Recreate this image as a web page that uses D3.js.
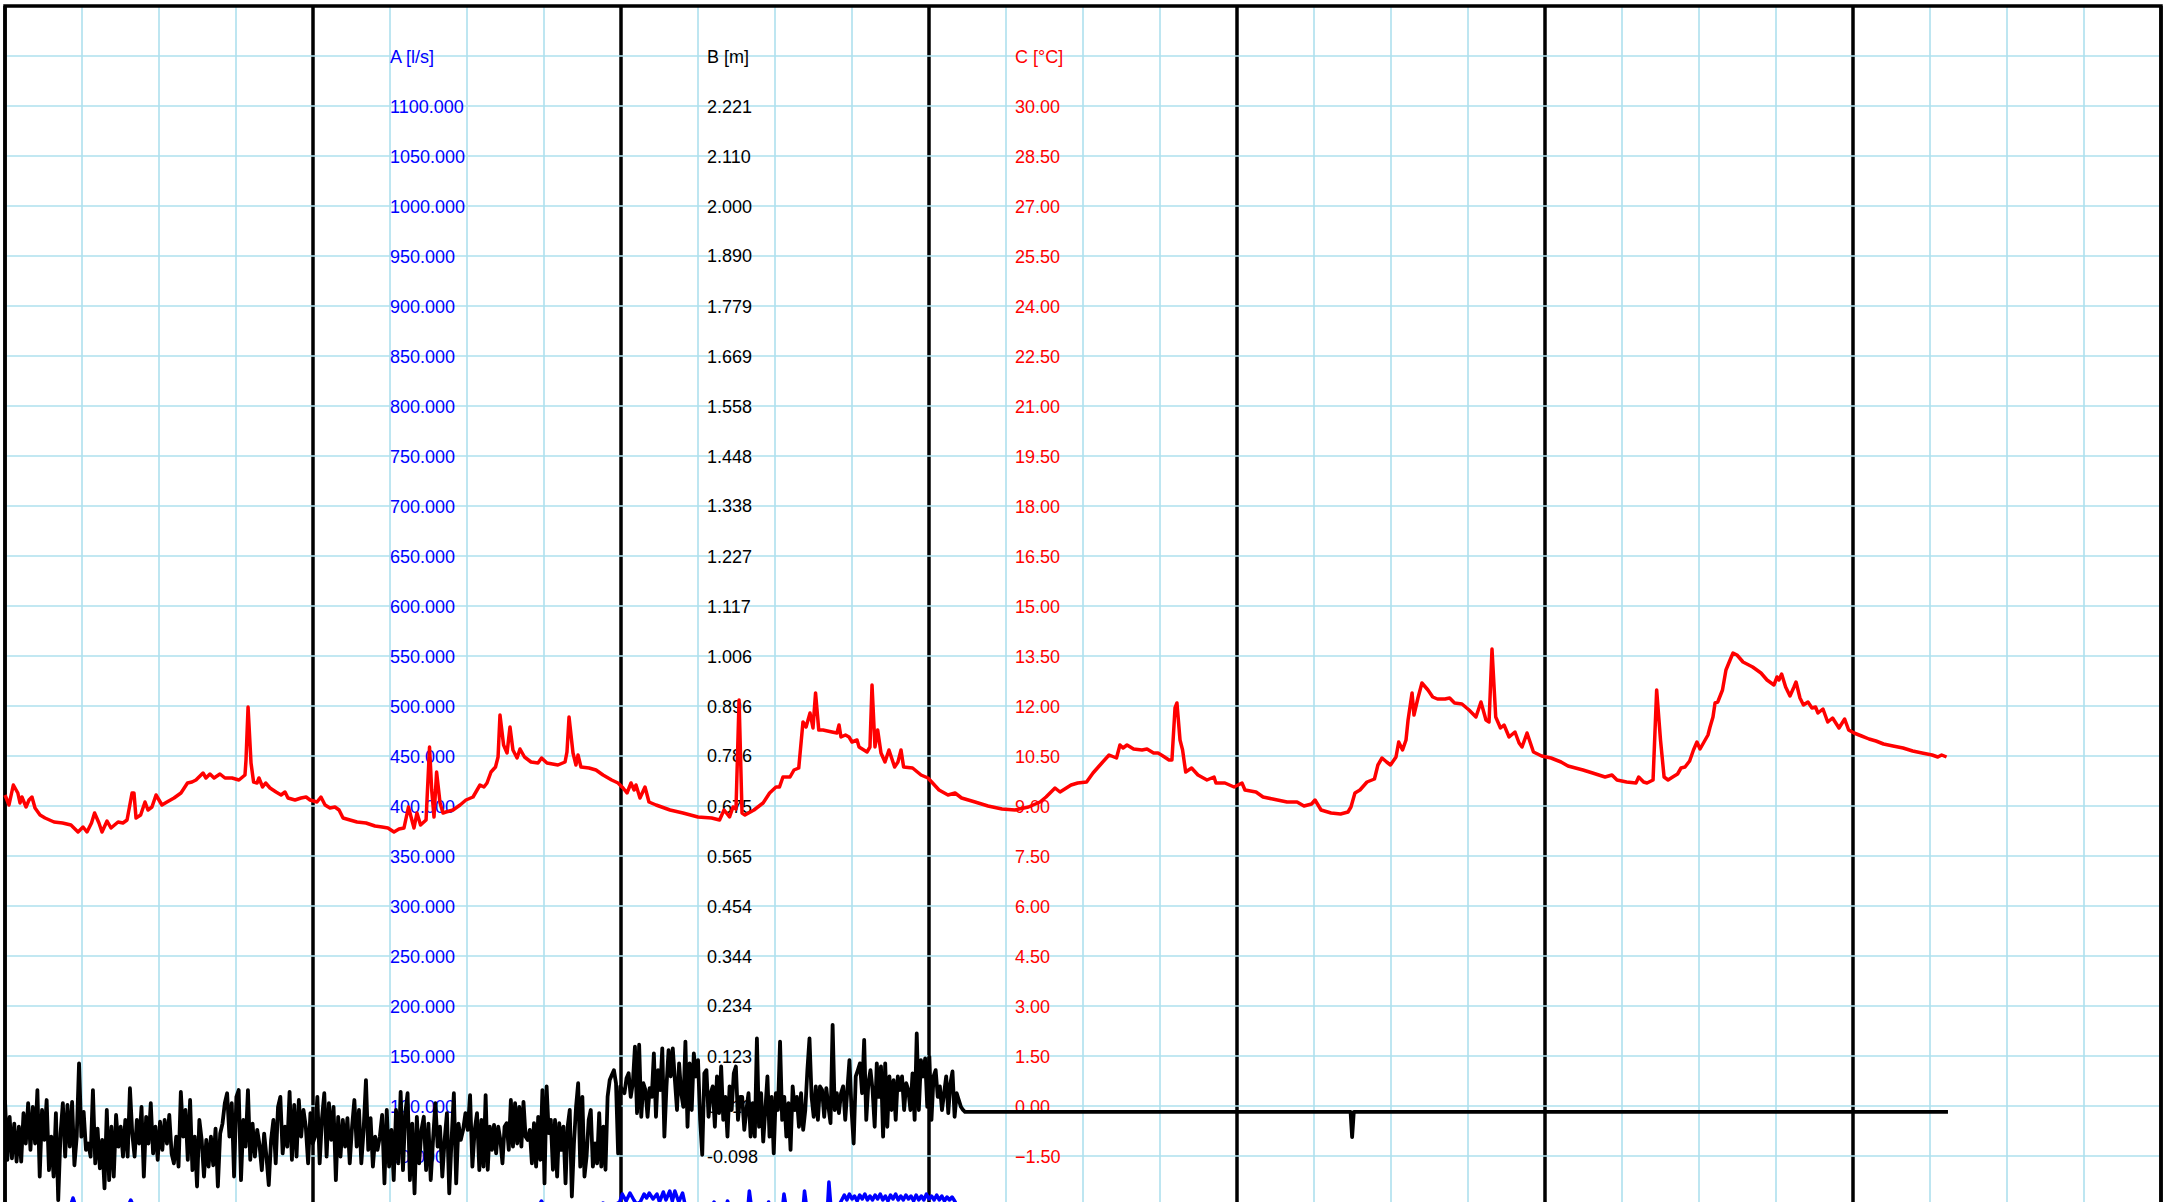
<!DOCTYPE html>
<html>
<head>
<meta charset="utf-8">
<script src="https://cdn.jsdelivr.net/npm/d3@7"></script>
<style>
  body { margin: 0; background: #fff; }
  svg { display: block; }
</style>
</head>
<body>
<div id="chart"></div>
<script>
// time axis is in hours, 7 days shown
var dayHours = 24;
var totalHours = 168;

// A [l/s] - flow, [hour, value]
var flowA = [[0,0],[5.1,0],[5.3,8],[5.5,0],[9.6,0],[9.8,6],[10.0,0],[41.6,0],[41.8,5],[42.0,0],[46.3,0],
  [46.6,3],[46.9,1],[47.2,2],[47.5,1],[47.9,4],[48.1,12],[48.4,5],[48.7,13],[49.0,6],[49.2,2],[49.5,4],
  [49.8,12],[50.0,8],[50.2,13],[50.5,7],[50.8,12],[51.0,4],[51.3,14],[51.5,6],[51.8,15],[52.0,5],[52.2,15],
  [52.5,4],[52.8,13],[53.0,1],[53.5,0],[55.1,0],[55.25,4],[55.4,0],[56.2,0],[56.3,5],[56.45,0],[57.9,0],
  [58.0,15],[58.15,0],[59.4,0],[59.5,4],[59.65,0],[60.6,0],[60.7,12],[60.85,0],[62.2,0],[62.3,15],[62.45,0],
  [64.1,0],[64.2,24],[64.35,0],[65.0,1],[65.2,6],[65.4,11],[65.6,6],[65.8,12],[66.0,7],[66.2,10],[66.4,5],
  [66.6,11],[66.8,7],[67.0,12],[67.2,6],[67.4,10],[67.6,6],[67.8,11],[68.0,7],[68.2,12],[68.4,6],[68.6,10],
  [68.8,5],[69.0,11],[69.2,7],[69.4,12],[69.6,6],[69.8,10],[70.0,6],[70.2,11],[70.4,7],[70.6,10],[70.8,5],
  [71.0,11],[71.2,6],[71.4,10],[71.6,6],[71.8,12],[72.0,7],[72.2,10],[72.4,6],[72.6,11],[72.8,6],[73.0,10],
  [73.2,5],[73.4,9],[73.6,6],[73.8,9],[74.0,5],[74.2,0],[151.3,0]];

// B [m] - level, logged samples; two logging blocks (sample index -> hour)
var levelBlockIdx = [0, 205, 435];
var levelBlockHours = [0, 36.96, 74.65];
var levelSamples = [
  0.026,-0.106,-0.011,-0.103,-0.026,-0.110,-0.033,-0.110,-0.003,-0.070,
  0.019,-0.084,0.011,-0.070,0.048,-0.143,0.004,-0.062,0.026,-0.129,
  -0.055,-0.143,-0.003,-0.195,-0.048,0.019,-0.099,0.015,-0.077,0.022,
  -0.118,-0.055,0.107,-0.055,0.000,-0.084,-0.070,-0.099,0.048,-0.114,
  -0.037,-0.125,-0.062,-0.169,0.004,-0.151,-0.033,-0.143,-0.007,-0.077,
  -0.033,-0.099,-0.018,-0.099,0.052,-0.048,-0.099,-0.018,-0.070,0.011,
  -0.143,-0.011,-0.070,0.019,-0.092,-0.033,-0.106,-0.022,-0.084,-0.018,
  -0.070,-0.007,-0.092,-0.114,-0.055,-0.121,0.044,-0.055,0.004,-0.106,
  0.026,-0.129,-0.055,-0.165,-0.018,-0.062,-0.143,-0.062,-0.121,-0.055,
  -0.118,-0.037,-0.165,-0.048,-0.026,0.019,0.041,-0.055,0.019,-0.143,
  0.033,0.048,-0.151,-0.018,-0.077,0.048,-0.106,-0.026,-0.099,-0.040,
  -0.073,-0.129,-0.048,-0.099,-0.162,-0.062,-0.018,-0.114,0.011,0.033,
  -0.092,-0.033,-0.077,0.044,-0.106,0.015,-0.099,0.026,-0.055,0.004,
  -0.033,-0.114,-0.003,-0.070,-0.055,0.033,-0.114,-0.014,0.041,-0.099,
  0.019,-0.062,0.011,-0.151,-0.011,-0.099,-0.018,-0.077,-0.014,-0.114,
  -0.033,0.026,-0.077,0.004,-0.114,-0.040,0.070,-0.084,-0.014,-0.121,
  -0.055,-0.084,-0.055,-0.007,-0.158,0.004,-0.121,-0.040,-0.151,0.004,
  -0.114,0.044,-0.129,-0.003,0.041,-0.151,-0.026,-0.180,-0.011,-0.114,
  -0.040,-0.011,-0.129,-0.026,-0.151,-0.062,0.019,-0.077,-0.033,-0.143,
  -0.062,-0.003,-0.180,-0.062,0.041,-0.158,-0.026,-0.062,-0.040,-0.003,
  -0.040,0.037,-0.121,-0.040,-0.003,-0.129,
  -0.018,-0.121,0.037,-0.128,-0.033,-0.084,-0.029,-0.092,-0.033,-0.062,
  -0.114,-0.033,-0.025,-0.084,0.026,-0.077,0.019,-0.070,0.011,-0.077,
  0.022,-0.055,-0.062,-0.040,-0.114,-0.025,-0.121,-0.011,-0.106,0.048,
  -0.158,0.056,-0.047,-0.018,-0.128,-0.018,-0.143,-0.025,-0.084,-0.033,
  -0.158,-0.033,0.004,-0.187,-0.070,0.011,0.063,-0.121,0.033,-0.143,
  -0.099,-0.018,0.004,-0.121,-0.070,-0.114,-0.003,-0.121,-0.033,-0.128,
  0.033,0.070,0.081,0.092,0.063,-0.092,0.056,0.048,0.041,0.074,
  0.085,0.033,0.063,0.144,-0.003,0.148,-0.011,0.063,0.048,-0.011,
  0.052,0.033,0.129,-0.011,0.092,0.048,0.140,-0.055,0.056,0.136,
  0.078,0.140,0.070,0.004,0.107,0.041,0.011,0.155,-0.033,0.107,
  0.004,0.129,0.078,0.114,-0.018,-0.095,0.085,0.092,-0.011,0.041,
  0.056,-0.033,0.078,-0.003,0.100,-0.018,0.033,-0.055,0.056,0.004,
  0.085,0.100,-0.018,0.033,0.033,-0.040,0.004,0.041,-0.055,0.019,
  -0.055,0.162,-0.033,0.041,-0.066,0.004,0.078,-0.055,0.033,-0.092,
  0.041,0.004,0.155,-0.018,0.033,-0.055,0.019,-0.084,0.056,0.004,
  0.033,-0.033,0.041,-0.040,0.004,0.092,0.162,0.033,-0.011,0.056,
  -0.018,0.056,0.048,-0.011,0.052,0.011,-0.025,0.192,0.004,0.041,
  -0.003,0.041,0.056,-0.018,0.048,0.114,0.004,-0.070,0.078,0.092,
  0.107,0.041,0.159,-0.018,0.063,0.092,0.048,-0.033,0.107,0.033,
  0.100,-0.055,0.107,-0.033,0.078,0.004,0.070,-0.018,0.078,0.048,
  0.078,0.004,0.063,0.048,0.004,0.085,-0.018,0.173,0.004,0.114,
  0.078,0.118,0.011,0.122,-0.018,0.078,0.092,0.033,0.056,0.004,
  0.041,0.078,-0.003,0.063,0.089,-0.011,0.041,0.026,0.011,0.004];
// B after the sensor stops: [hour, value]
var levelTail = [[74.8,0],[104.85,0],[104.97,-0.056],[105.1,0],[151.4,0]];

// C [°C] - temperature, [hour, value]
var tempC = [[0,9.33],[0.31,9.03],[0.65,9.63],[1.0,9.39],[1.17,9.09],[1.32,9.27],[1.64,8.97],[1.87,9.18],[2.1,9.27],[2.34,8.94],
  [2.73,8.73],[3.12,8.64],[3.82,8.52],[4.48,8.49],[5.14,8.43],[5.69,8.22],[6.08,8.37],[6.39,8.22],[6.74,8.49],[6.98,8.79],
  [7.32,8.49],[7.56,8.22],[7.95,8.55],[8.26,8.34],[8.81,8.52],[9.19,8.49],[9.51,8.58],[9.9,9.39],[10.05,9.39],[10.21,8.64],
  [10.57,8.73],[10.91,9.12],[11.14,8.88],[11.45,8.97],[11.77,9.33],[12.23,9.03],[12.62,9.12],[13.17,9.24],[13.71,9.39],[14.22,9.69],
  [14.57,9.72],[14.88,9.78],[15.43,9.99],[15.66,9.84],[15.97,9.96],[16.29,9.84],[16.75,9.96],[17.14,9.84],[17.69,9.84],[18.23,9.78],
  [18.7,9.93],[18.78,10.38],[18.94,11.97],[19.17,10.29],[19.37,9.72],[19.64,9.69],[19.79,9.84],[20.07,9.57],[20.31,9.69],[20.65,9.54],
  [21.12,9.42],[21.51,9.33],[21.82,9.42],[22.05,9.24],[22.6,9.18],[23.07,9.24],[23.46,9.27],[23.77,9.18],[24.31,9.12],[24.62,9.27],
  [24.94,9.03],[25.32,8.94],[25.71,8.97],[26.03,8.88],[26.34,8.64],[26.88,8.58],[27.43,8.52],[28.13,8.49],[28.83,8.4],[29.38,8.37],
  [29.84,8.34],[30.31,8.22],[30.7,8.31],[31.09,8.34],[31.44,8.97],[31.64,8.67],[31.87,8.34],[32.1,8.79],[32.38,8.43],[32.81,8.58],
  [33.08,10.77],[33.25,9.48],[33.43,8.67],[33.63,10.02],[33.9,9.09],[34.13,8.79],[34.36,8.82],[34.91,8.88],[35.46,9.03],[35.92,9.18],
  [36.47,9.27],[37.01,9.63],[37.32,9.57],[37.56,9.69],[37.87,10.02],[38.22,10.17],[38.42,10.47],[38.57,11.73],[38.85,10.83],[39.12,10.59],
  [39.35,11.37],[39.58,10.68],[39.9,10.44],[40.13,10.71],[40.48,10.47],[40.99,10.32],[41.53,10.29],[41.81,10.44],[42.23,10.29],[43.09,10.23],
  [43.64,10.32],[43.79,10.62],[43.95,11.67],[44.26,10.59],[44.49,10.23],[44.65,10.53],[44.88,10.17],[45.51,10.14],[46.05,10.08],[46.6,9.93],
  [47.27,9.78],[47.77,9.69],[48.16,9.54],[48.47,9.39],[48.78,9.69],[49.02,9.48],[49.17,9.63],[49.48,9.24],[49.87,9.57],[50.18,9.12],
  [50.73,9.03],[51.82,8.88],[52.83,8.79],[54.0,8.67],[55.06,8.64],[55.68,8.58],[56.03,8.88],[56.46,8.67],[56.73,8.97],[56.96,8.91],
  [57.2,12.18],[57.43,8.79],[57.66,8.73],[58.36,8.88],[59.07,9.09],[59.58,9.39],[60.08,9.57],[60.35,9.57],[60.62,9.87],[61.17,9.87],
  [61.48,10.08],[61.85,10.14],[62.18,11.52],[62.42,11.37],[62.73,11.79],[62.96,11.34],[63.16,12.39],[63.41,11.28],[63.74,11.28],[64.44,11.22],
  [64.83,11.19],[64.99,11.43],[65.14,11.07],[65.49,11.13],[65.77,11.07],[66.0,10.92],[66.39,10.98],[66.55,10.77],[67.17,10.62],[67.4,10.77],
  [67.56,12.63],[67.79,10.77],[68.0,11.28],[68.26,10.59],[68.57,10.32],[68.88,10.68],[69.32,10.17],[69.58,10.32],[69.82,10.68],[70.02,10.17],
  [70.72,10.14],[71.38,9.93],[71.92,9.84],[72.78,9.48],[73.48,9.33],[74.03,9.39],[74.54,9.24],[75.59,9.12],[76.6,9.0],[77.69,8.91],
  [78.7,8.88],[79.76,8.97],[80.65,9.12],[81.12,9.27],[81.82,9.54],[82.21,9.42],[83.07,9.63],[83.59,9.69],[84.28,9.72],[84.78,9.99],
  [85.33,10.23],[86.03,10.53],[86.61,10.44],[86.88,10.83],[87.12,10.74],[87.43,10.83],[87.94,10.71],[88.6,10.68],[88.99,10.71],[89.5,10.59],
  [89.85,10.59],[90.23,10.5],[90.7,10.38],[90.93,10.38],[91.17,11.94],[91.32,12.09],[91.56,10.98],[91.76,10.68],[92.0,10.02],[92.46,10.14],
  [92.96,9.93],[93.66,9.78],[94.21,9.87],[94.36,9.69],[95.06,9.69],[95.77,9.57],[96.39,9.69],[96.62,9.48],[97.48,9.42],[98.03,9.27],
  [98.78,9.21],[99.9,9.12],[100.68,9.12],[101.22,9.0],[101.81,9.06],[102.08,9.18],[102.55,8.88],[103.33,8.79],[104.07,8.76],[104.65,8.82],
  [104.88,8.97],[105.19,9.39],[105.58,9.48],[106.13,9.72],[106.71,9.81],[106.98,10.23],[107.3,10.44],[107.66,10.32],[107.96,10.23],[108.39,10.47],
  [108.6,10.92],[108.9,10.68],[109.17,10.98],[109.33,11.58],[109.64,12.39],[109.79,11.73],[110.1,12.24],[110.41,12.69],[110.88,12.48],[111.25,12.27],
  [111.62,12.21],[112.21,12.21],[112.57,12.24],[112.95,12.09],[113.53,12.06],[114.08,11.88],[114.62,11.67],[115.01,12.12],[115.4,11.58],[115.64,11.52],
  [115.87,13.71],[116.16,11.67],[116.53,11.34],[116.81,11.43],[117.2,11.07],[117.66,11.22],[117.98,10.89],[118.21,10.77],[118.6,11.19],[119.1,10.62],
  [119.74,10.5],[120.47,10.44],[121.25,10.32],[121.79,10.2],[122.96,10.08],[123.71,9.99],[124.68,9.87],[125.22,9.93],[125.61,9.78],[126.36,9.72],
  [127.09,9.69],[127.3,9.87],[127.68,9.72],[127.95,9.69],[128.42,9.78],[128.7,12.48],[129.0,10.98],[129.28,9.87],[129.59,9.78],[129.95,9.87],
  [130.33,9.96],[130.6,10.14],[130.91,10.17],[131.27,10.35],[131.57,10.68],[131.84,10.92],[132.08,10.71],[132.39,10.92],[132.7,11.13],[132.86,11.37],
  [133.09,11.67],[133.25,12.09],[133.46,12.12],[133.83,12.48],[134.1,13.08],[134.42,13.38],[134.65,13.59],[134.96,13.53],[135.43,13.32],[136.18,13.17],
  [136.83,12.99],[137.3,12.78],[137.84,12.63],[138.08,12.87],[138.23,12.78],[138.44,12.96],[138.75,12.57],[139.09,12.3],[139.4,12.57],[139.56,12.72],
  [139.87,12.24],[140.14,12.03],[140.49,12.12],[140.8,11.94],[141.08,11.97],[141.27,11.79],[141.66,11.91],[142.03,11.52],[142.41,11.64],[142.91,11.34],
  [143.35,11.61],[143.66,11.28],[144.08,11.19],[144.67,11.1],[145.25,11.01],[145.79,10.95],[146.38,10.86],[147.12,10.8],[147.9,10.74],[148.65,10.65],
  [149.38,10.59],[150.16,10.53],[150.61,10.47],[150.91,10.53],[151.29,10.47]];

// tick labels of the three value axes
var aTicks = [1100,1050,1000,950,900,850,800,750,700,650,600,550,500,450,400,350,300,250,200,150,100,50];
var bTicks = ["2.221","2.110","2.000","1.890","1.779","1.669","1.558","1.448","1.338","1.227","1.117",
  "1.006","0.896","0.786","0.675","0.565","0.454","0.344","0.234","0.123","0.013","-0.098"];
var cTicks = [30,28.5,27,25.5,24,22.5,21,19.5,18,16.5,15,13.5,12,10.5,9,7.5,6,4.5,3,1.5,0,-1.5];
var titles = ["A [l/s]", "B [m]", "C [°C]"];

var chartW = 2164, chartH = 1202;
var plotL = 5, plotR = 2161, plotT = 6, plotB = 1206;

var x = d3.scaleLinear().domain([0, totalHours]).range([plotL, plotR]);
var yA = d3.scaleLinear().domain([0, 1200]).range([plotB, plotT]);
var yB = d3.scaleLinear().domain([-0.208, 2.4416]).range([plotB, plotT]);
var yC = d3.scaleLinear().domain([-3, 33]).range([plotB, plotT]);
var sampleHour = d3.scaleLinear().domain(levelBlockIdx).range(levelBlockHours);

var svg = d3.select("#chart").append("svg").attr("width", chartW).attr("height", chartH)
  .attr("font-family", "'Liberation Sans', Arial, Helvetica, sans-serif").attr("font-size", 18);
svg.append("rect").attr("width", chartW).attr("height", chartH).attr("fill", "#fff");

var gridColor = "#aee0ee";

// minor verticals every 6 hours
svg.append("g").selectAll("line").data(d3.range(0, totalHours + 1, 6)).enter().append("line")
  .attr("x1", x).attr("x2", x).attr("y1", plotT).attr("y2", plotB)
  .attr("stroke", gridColor).attr("stroke-width", 1.6);
// day lines
svg.append("g").selectAll("line").data(d3.range(0, totalHours + 1, dayHours)).enter().append("line")
  .attr("x1", x).attr("x2", x).attr("y1", plotT).attr("y2", plotB)
  .attr("stroke", "#000").attr("stroke-width", 3.5);
// horizontal grid
svg.append("g").selectAll("line").data(d3.range(0, 1201, 50)).enter().append("line")
  .attr("x1", plotL + 2).attr("x2", plotR - 2).attr("y1", yA).attr("y2", yA)
  .attr("stroke", gridColor).attr("stroke-width", 1.6);
// frame
svg.append("path").attr("d", "M" + plotL + "," + plotB + "V" + plotT + "H" + plotR + "V" + plotB)
  .attr("fill", "none").attr("stroke", "#000").attr("stroke-width", 3.5);

// axis labels
var titleY = yA(1150);
var columns = [
  {x: 390, color: "#0000ff", ticks: aTicks, y: yA, fmt: d3.format(".3f")},
  {x: 707, color: "#000000", ticks: bTicks, y: function (d) { return yB(+d); }, fmt: function (d) { return d; }},
  {x: 1015, color: "#ff0000", ticks: cTicks, y: yC, fmt: d3.format(".2f")}
];
columns.forEach(function (c, i) {
  var g = svg.append("g").attr("fill", c.color);
  g.append("text").attr("x", c.x).attr("y", titleY).attr("dy", "0.37em").text(titles[i]);
  g.selectAll("text.tick").data(c.ticks).enter().append("text").attr("class", "tick")
    .attr("x", c.x).attr("y", c.y).attr("dy", "0.37em").text(c.fmt);
});

// series
var levelB = levelSamples.map(function (v, i) { return [sampleHour(i), v]; }).concat(levelTail);

function drawLine(data, yScale, color, w) {
  var line = d3.line().x(function (d) { return x(d[0]); }).y(function (d) { return yScale(d[1]); });
  svg.append("path").datum(data).attr("d", line)
    .attr("fill", "none").attr("stroke", color).attr("stroke-width", w)
    .attr("stroke-linejoin", "round").attr("stroke-linecap", "butt");
}
drawLine(flowA, yA, "#0000ff", 3.5);
drawLine(levelB, yB, "#000000", 3.8);
drawLine(tempC, yC, "#ff0000", 3.5);
</script>
</body>
</html>
